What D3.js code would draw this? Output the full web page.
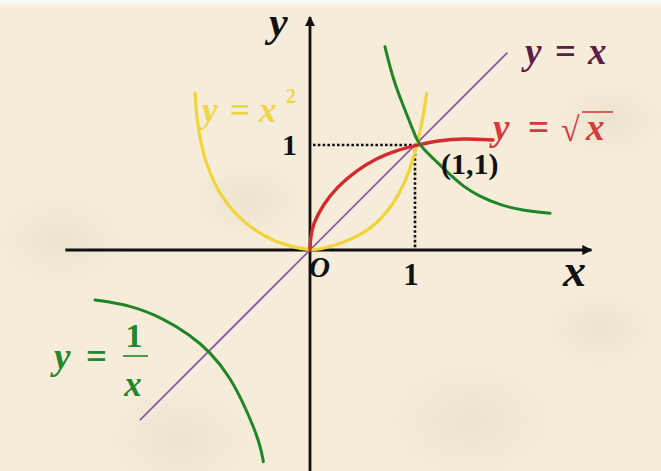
<!DOCTYPE html>
<html>
<head>
<meta charset="utf-8">
<script src="https://cdn.jsdelivr.net/npm/d3@7"></script>
<style>
html,body{margin:0;padding:0;background:#f5ecd9;}
svg{display:block;}
text{font-family:"Liberation Serif","DejaVu Serif",serif;font-weight:bold;}
</style>
</head>
<body>
<svg id="chart" width="661" height="471"></svg>
<script>
// ---- data (data units) ----
const lineX = [[-1.62, -1.62], [1.88, 1.88]];
const parabola = [
  [-1.095, 1.495], [-1.079, 1.238], [-1.016, 0.889], [-0.889, 0.571], [-0.698, 0.317],
  [-0.445, 0.127], [-0.19, 0.031], [0, 0], [0.095, 0.004], [0.314, 0.067], [0.543, 0.171],
  [0.733, 0.352], [0.857, 0.543], [0.952, 0.762], [1.02, 1.0], [1.079, 1.27], [1.111, 1.492]
];
const sqrtCurve = [
  [0, 0], [0.005, 0.12], [0.029, 0.25], [0.124, 0.43], [0.257, 0.6], [0.448, 0.762], [0.638, 0.876],
  [0.829, 0.952], [1.02, 1.0], [1.238, 1.045], [1.457, 1.062], [1.743, 1.048]
];
const hyperQ1 = [
  [0.714, 1.936], [0.793, 1.619], [0.889, 1.37], [0.97, 1.17], [1.02, 1.04], [1.08, 0.96],
  [1.174, 0.873], [1.302, 0.746], [1.46, 0.603], [1.619, 0.508], [1.81, 0.429],
  [2.0, 0.381], [2.286, 0.35]
];
const hyperQ3 = [
  [-2.048, -0.476], [-1.714, -0.524], [-1.397, -0.65], [-1.143, -0.81], [-0.952, -0.969],
  [-0.762, -1.206], [-0.603, -1.524], [-0.476, -1.841], [-0.444, -2.016]
];
const xAxisExtent = [-2.33, 2.68];
const yAxisExtent = [-2.25, 2.22];
const tickValue = 1;
const tickLabel = "1";
const originLabel = "O";
const pointLabel = "(1,1)";

// ---- scales ----
const x = d3.scaleLinear().domain([-3, 3]).range([310 - 315, 310 + 315]);
const y = d3.scaleLinear().domain([-3, 3]).range([250 + 315, 250 - 315]);

const svg = d3.select("#chart");

// background
const defs = svg.append("defs");
const rg = defs.append("radialGradient").attr("id", "blot");
rg.append("stop").attr("offset", "0%").attr("stop-color", "#d9d0bd").attr("stop-opacity", 0.35);
rg.append("stop").attr("offset", "100%").attr("stop-color", "#d9d0bd").attr("stop-opacity", 0);
const tg = defs.append("linearGradient").attr("id", "topfade").attr("x1", 0).attr("y1", 0).attr("x2", 0).attr("y2", 1);
tg.append("stop").attr("offset", "0%").attr("stop-color", "#fbf9f4");
tg.append("stop").attr("offset", "100%").attr("stop-color", "#f5ecd9");
svg.append("rect").attr("width", 661).attr("height", 471).attr("fill", "#f5ecd9");
svg.append("rect").attr("width", 661).attr("height", 10).attr("fill", "url(#topfade)");
[[60, 240, 70], [470, 420, 90], [600, 330, 60], [180, 440, 80], [250, 200, 60], [610, 120, 60]].forEach(b => {
  svg.append("ellipse").attr("cx", b[0]).attr("cy", b[1]).attr("rx", b[2]).attr("ry", b[2] * 0.7).attr("fill", "url(#blot)");
});

// arrow markers
const mk = defs.append("marker").attr("id", "arrow").attr("viewBox", "0 0 10 10")
  .attr("refX", 9).attr("refY", 5).attr("markerWidth", 4).attr("markerHeight", 3.6)
  .attr("markerUnits", "strokeWidth").attr("orient", "auto");
mk.append("path").attr("d", "M0,0 L10,5 L0,10 Z").attr("fill", "#111");

// axes
svg.append("line").attr("x1", x(xAxisExtent[0])).attr("y1", y(0)).attr("x2", x(xAxisExtent[1])).attr("y2", y(0))
  .attr("stroke", "#111").attr("stroke-width", 2.8).attr("marker-end", "url(#arrow)");
svg.append("line").attr("x1", x(0)).attr("y1", y(yAxisExtent[0])).attr("x2", x(0)).attr("y2", y(yAxisExtent[1]))
  .attr("stroke", "#111").attr("stroke-width", 2.8).attr("marker-end", "url(#arrow)");

// dotted guides
svg.append("path")
  .attr("d", `M${x(0) + 3},${y(tickValue)} H${x(tickValue)} V${y(0) - 2}`)
  .attr("fill", "none").attr("stroke", "#111").attr("stroke-width", 2.6).attr("stroke-dasharray", "2.6,2.2");

const line = d3.line().x(d => x(d[0])).y(d => y(d[1])).curve(d3.curveBasis);
const straight = d3.line().x(d => x(d[0])).y(d => y(d[1]));

svg.append("path").attr("d", straight(lineX)).attr("fill", "none").attr("stroke", "#8b4ea6").attr("stroke-width", 1.6);
svg.append("path").attr("d", line(parabola)).attr("fill", "none").attr("stroke", "#f2d43a").attr("stroke-width", 3.2).attr("stroke-linecap", "round");
svg.append("path").attr("d", line(sqrtCurve)).attr("fill", "none").attr("stroke", "#d42c2c").attr("stroke-width", 3.4).attr("stroke-linecap", "round");
svg.append("path").attr("d", line(hyperQ1)).attr("fill", "none").attr("stroke", "#1f8526").attr("stroke-width", 3).attr("stroke-linecap", "round");
svg.append("path").attr("d", line(hyperQ3)).attr("fill", "none").attr("stroke", "#1f8526").attr("stroke-width", 3).attr("stroke-linecap", "round");

// labels
function t(txt, px, py, size, color, italic, anchor) {
  return svg.append("text").attr("x", px).attr("y", py).attr("font-size", size)
    .attr("fill", color).attr("font-style", italic ? "italic" : "normal")
    .attr("text-anchor", anchor || "start").text(txt);
}
t("y", 269, 36, 42, "#111", true);
t("x", 563, 286, 46, "#111", true);
t(originLabel, 309, 277, 29, "#111", true);
t(tickLabel, 411, 285, 31, "#111", false, "middle");
t(tickLabel, 297, 155, 30, "#111", false, "end");
t(pointLabel, 441, 174, 30, "#111", false);

// y = x
const cx = "#5c1d47";
t("y", 525, 64, 37, cx, true);
t("=", 555, 64, 37, cx, false);
t("x", 588, 64, 37, cx, true);

// y = sqrt(x)
const cr = "#d63a3a";
t("y", 493, 140, 37, cr, true);
t("=", 528, 140, 37, cr, false);
t("√", 561, 141, 34, cr, false).attr("font-weight", "normal");
t("x", 586, 140, 37, cr, true);
svg.append("line").attr("x1", 582).attr("x2", 613).attr("y1", 112).attr("y2", 112).attr("stroke", cr).attr("stroke-width", 1.6);

// y = x^2
const cy = "#f0d448";
t("y", 202, 122, 35, cy, true);
t("=", 230, 122, 35, cy, false);
t("x", 259, 122, 35, cy, true);
t("2", 286, 103, 20, cy, false);

// y = 1/x
const cg = "#23862a";
t("y", 54, 369, 37, cg, true);
t("=", 86, 369, 37, cg, false);
t("1", 134, 347, 34, cg, false, "middle");
svg.append("line").attr("x1", 123).attr("x2", 148).attr("y1", 356).attr("y2", 356).attr("stroke", cg).attr("stroke-width", 1.6);
t("x", 133, 396, 35, cg, true, "middle");
</script>
</body>
</html>
